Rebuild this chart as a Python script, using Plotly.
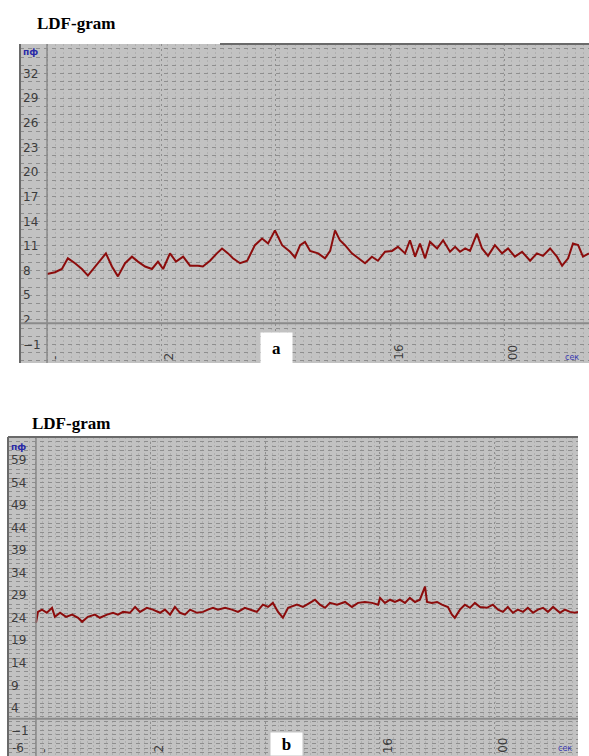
import plotly.graph_objects as go

# ---------------- data ----------------
TITLE = "LDF-gram"
UNIT = "пф"

# Panel a: time (min) and perfusion (пф)
time_a = [0.00, 0.28, 0.52, 0.73, 0.98, 1.22, 1.43, 1.68, 1.85, 2.06,
          2.27, 2.48, 2.73, 2.97, 3.18, 3.43, 3.67, 3.88, 4.06, 4.30,
          4.51, 4.76, 5.00, 5.28, 5.45, 5.70, 5.94, 6.12, 6.33, 6.50,
          6.75, 7.00, 7.27, 7.52, 7.73, 7.97, 8.22, 8.50, 8.67, 8.85,
          9.02, 9.20, 9.48, 9.72, 9.90, 10.07, 10.24, 10.42, 10.66, 10.87,
          11.12, 11.36, 11.57, 11.82, 12.06, 12.27, 12.52, 12.69, 12.87, 13.04,
          13.22, 13.39, 13.64, 13.85, 14.09, 14.27, 14.44, 14.62, 14.79, 15.03,
          15.21, 15.42, 15.66, 15.91, 16.12, 16.36, 16.61, 16.89, 17.13, 17.34,
          17.59, 17.83, 18.01, 18.22, 18.39, 18.57, 18.74, 18.95]
ldf_a = [7.6, 7.8, 8.2, 9.5, 8.9, 8.2, 7.4, 8.5, 9.1, 10.1,
         8.5, 7.3, 8.9, 9.7, 9.1, 8.5, 8.2, 9.1, 8.2, 10.1,
         9.1, 9.7, 8.6, 8.6, 8.5, 9.2, 10.1, 10.7, 10.1, 9.5,
         8.9, 9.2, 11.1, 11.9, 11.3, 12.9, 11.1, 10.3, 9.6, 11.1,
         11.5, 10.4, 10.1, 9.5, 10.4, 12.9, 11.7, 11.1, 10.1, 9.5,
         8.9, 9.7, 9.2, 10.3, 10.4, 10.9, 10.1, 11.7, 9.7, 11.3,
         9.5, 11.5, 10.7, 11.7, 10.3, 10.9, 10.3, 10.7, 10.4, 12.5,
         10.7, 9.8, 11.1, 10.1, 10.7, 9.7, 10.3, 9.2, 10.1, 9.8,
         10.7, 9.7, 8.6, 9.5, 11.3, 11.1, 9.7, 10.1]

# Panel b
time_b = [0.00, 0.07, 0.21, 0.38, 0.56, 0.66, 0.84, 1.05, 1.26, 1.47,
          1.61, 1.81, 2.06, 2.23, 2.48, 2.69, 2.86, 3.04, 3.28, 3.46,
          3.63, 3.87, 4.08, 4.33, 4.50, 4.68, 4.85, 5.03, 5.20, 5.38,
          5.62, 5.83, 6.00, 6.18, 6.35, 6.60, 6.84, 7.05, 7.29, 7.47,
          7.71, 7.92, 8.10, 8.27, 8.45, 8.62, 8.80, 9.11, 9.32, 9.56,
          9.74, 9.91, 10.09, 10.26, 10.51, 10.79, 11.03, 11.24, 11.48, 11.73,
          11.94, 12.01, 12.18, 12.36, 12.53, 12.70, 12.88, 13.05, 13.23, 13.40,
          13.58, 13.65, 13.82, 14.00, 14.17, 14.38, 14.52, 14.62, 14.80, 14.97,
          15.15, 15.32, 15.50, 15.74, 15.95, 16.13, 16.30, 16.47, 16.65, 16.82,
          17.00, 17.17, 17.35, 17.52, 17.70, 17.87, 18.05, 18.29, 18.46, 18.64,
          18.81, 18.92]
ldf_b = [22.9, 25.3, 25.8, 25.1, 26.2, 24.2, 25.1, 24.2, 24.7, 24.0,
         23.1, 24.2, 24.7, 24.0, 24.7, 25.1, 24.7, 25.3, 25.1, 26.4,
         25.3, 26.2, 25.8, 25.1, 25.8, 24.7, 26.4, 25.1, 24.7, 25.8,
         25.1, 25.3, 25.8, 26.2, 25.8, 26.2, 25.8, 25.3, 26.2, 25.8,
         25.3, 26.9, 26.4, 27.3, 25.3, 24.0, 26.2, 26.9, 26.4, 27.3,
         28.0, 26.9, 26.2, 27.3, 26.9, 27.5, 26.4, 27.3, 27.5, 27.3,
         26.9, 28.4, 27.3, 28.0, 27.5, 28.0, 27.3, 28.4, 27.5, 28.0,
         30.9, 27.5, 27.3, 27.5, 26.9, 26.4, 24.7, 24.0, 25.8, 26.9,
         26.2, 27.3, 26.4, 26.2, 26.9, 25.8, 25.3, 26.4, 25.1, 25.8,
         25.3, 26.2, 25.1, 25.8, 26.2, 25.3, 26.4, 25.1, 25.8, 25.3,
         25.1, 25.3]

# tick values / labels
xticks = [0, 4, 8, 12, 16]
xticklabels_a = ["-", "2", "", "16", "00"]
xticklabels_b = ["-", "2", ".", "16", "00"]
yticks_a = [-1, 2, 5, 8, 11, 14, 17, 20, 23, 26, 29, 32]
yticks_b = [-1, 4, 9, 14, 19, 24, 29, 34, 39, 44, 49, 54, 59]
ytick_b_edge = -6          # lowest label of panel b, sits on the bottom edge
baseline_a = 1.6
baseline_b = 1.6
panel_labels = ["a", "b"]
corner_unit = "сек"

# ---------------- styling ----------------
W, H = 589, 756
BG = "#c2c2c2"
GRID = "#8e8e8e"
FAINT = "#b0b0b0"
LINE = "#8c0c0c"
FRAME = "#6a6a6a"
TICKFONT = dict(family="DejaVu Sans", size=12, color="#3c3c3c")


def px(x):
    return x / W


def py(y):
    return 1 - y / H


fig = go.Figure()
fig.add_trace(go.Scatter(x=time_a, y=ldf_a, mode="lines",
                         line=dict(color=LINE, width=2), xaxis="x", yaxis="y",
                         showlegend=False, hoverinfo="skip"))
fig.add_trace(go.Scatter(x=time_b, y=ldf_b, mode="lines",
                         line=dict(color=LINE, width=2), xaxis="x2", yaxis="y2",
                         showlegend=False, hoverinfo="skip"))


def xax(domain, rng, minor_dt, anchor):
    return dict(domain=domain, range=rng, anchor=anchor,
                tickvals=xticks, showticklabels=False,
                ticks="", showline=False, zeroline=False,
                showgrid=True, gridcolor=GRID, griddash="2px,3px", gridwidth=1,
                minor=dict(dtick=minor_dt, tick0=0, showgrid=True,
                           gridcolor=FAINT, griddash="2px,2px", gridwidth=1),
                fixedrange=True)


def yax(domain, rng, ticks, anchor):
    return dict(domain=domain, range=rng, anchor=anchor,
                tickvals=ticks, ticklabelposition="inside", tickfont=TICKFONT,
                ticks="", showline=False, zeroline=False,
                showgrid=True, gridcolor=GRID, griddash="4px,4px", gridwidth=1,
                minor=dict(dtick=1, tick0=0, showgrid=True,
                           gridcolor=GRID, griddash="4px,4px", gridwidth=1),
                fixedrange=True)


fig.update_layout(
    width=W, height=H, margin=dict(l=0, r=0, t=0, b=0),
    paper_bgcolor="white", plot_bgcolor=BG,
    xaxis=xax([px(20), 1.0], [-0.944, 18.95], 0.28, "y"),
    yaxis=yax([py(363), py(44)], [-3.25, 35.6], yticks_a, "x"),
    xaxis2=xax([px(8), px(578)], [-0.977, 18.92], 0.223, "y2"),
    yaxis2=yax([0.0, py(437)], [-6.67, 64.1], yticks_b, "x2"),
)

shapes = []
for xr, yr, base in (("x", "y", baseline_a), ("x2", "y2", baseline_b)):
    shapes.append(dict(type="line", xref=f"{xr} domain", yref=yr, x0=0, x1=1,
                       y0=base, y1=base, line=dict(color="#8a8a8a", width=2)))
    shapes.append(dict(type="line", xref=xr, yref=f"{yr} domain", x0=0, x1=0,
                       y0=0, y1=1, line=dict(color="#8a8a8a", width=1.5)))
    shapes.append(dict(type="line", xref=f"{xr} domain", yref=f"{yr} domain",
                       x0=0, x1=0, y0=0, y1=1, line=dict(color=FRAME, width=2)))
shapes.append(dict(type="line", xref="x domain", yref="y domain",
                   x0=(220 - 20) / 569, x1=1, y0=1, y1=1, line=dict(color=FRAME, width=2)))
shapes.append(dict(type="line", xref="x2 domain", yref="y2 domain",
                   x0=0, x1=1, y0=1, y1=1, line=dict(color=FRAME, width=2)))
fig.update_layout(shapes=shapes)

ann = []
# rotated x tick labels
for xr, yr, labels in (("x", "y", xticklabels_a), ("x2", "y2", xticklabels_b)):
    for xv, lab in zip(xticks, labels):
        if not lab:
            continue
        ann.append(dict(text=lab, xref=xr, yref=f"{yr} domain", x=xv, y=0,
                        xanchor="center", yanchor="bottom", textangle=-90,
                        xshift=8, yshift=1, showarrow=False, font=TICKFONT))
# lowest y label of panel b (at the bottom edge)
ann.append(dict(text=f"{ytick_b_edge}", xref="x2 domain", yref="y2", x=0,
                y=ytick_b_edge, xanchor="left", yanchor="middle", xshift=2, yshift=5,
                showarrow=False, font=TICKFONT))
for x0, y0 in ((35, 23), (30, 423)):
    ann.append(dict(text=f"<b>{TITLE}</b>", xref="paper", yref="paper",
                    x=px(x0), y=py(y0), xanchor="left", yanchor="middle",
                    showarrow=False,
                    font=dict(family="Liberation Serif", size=17, color="black")))
for x0, y0 in ((21, 52), (9, 447)):
    ann.append(dict(text=f"<b>{UNIT}</b>", xref="paper", yref="paper",
                    x=px(x0), y=py(y0), xanchor="left", yanchor="middle",
                    showarrow=False,
                    font=dict(family="DejaVu Sans", size=9, color="#2a2aa8")))
for lab, cx, cy, h in ((panel_labels[0], 276.5, 348, 30), (panel_labels[1], 286.5, 744, 22)):
    ann.append(dict(text=f"<b>{lab}</b>", xref="paper", yref="paper",
                    x=px(cx), y=py(cy), xanchor="center", yanchor="middle",
                    width=31, height=h, bgcolor="white", borderpad=0, showarrow=False,
                    font=dict(family="Liberation Serif", size=17, color="black")))
for x0, y0 in ((572, 358), (565, 748)):
    ann.append(dict(text=corner_unit, xref="paper", yref="paper",
                    x=px(x0), y=py(y0), xanchor="center", yanchor="middle",
                    showarrow=False,
                    font=dict(family="DejaVu Sans", size=8, color="#3a3ab0")))
fig.update_layout(annotations=ann)

fig.write_html("out.html", config={"displayModeBar": False},
               post_script="document.body.style.margin='0';")
